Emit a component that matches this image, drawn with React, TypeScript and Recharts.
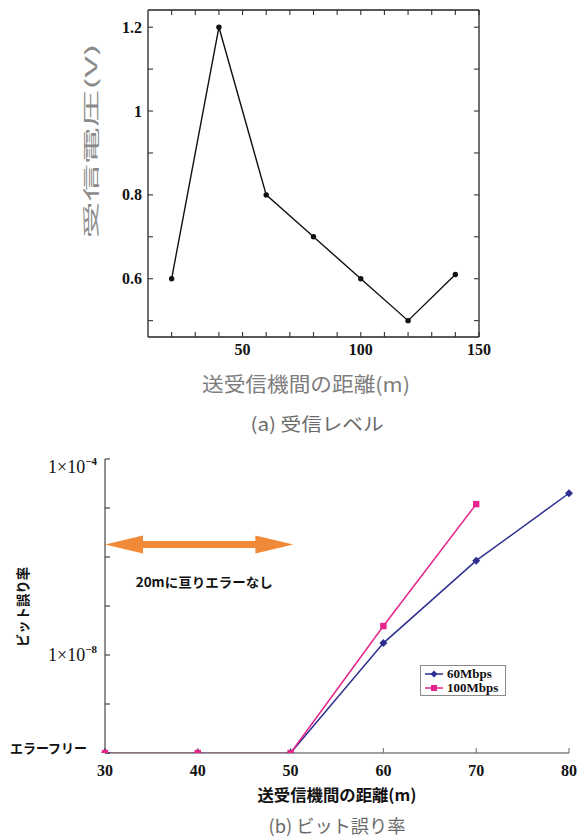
import React from 'react';
import { LineChart, Line, XAxis, YAxis, Legend, ReferenceLine } from 'recharts';

// ---------- (a) 受信レベル ----------
const voltDistance = [20, 40, 60, 80, 100, 120, 140];
const voltValue = [0.6, 1.2, 0.8, 0.7, 0.6, 0.5, 0.61];
const voltXTicks = [20, 30, 40, 50, 60, 70, 80, 90, 100, 110, 120, 130, 140, 150];
const voltXLabelTicks = [50, 100, 150];
const voltYTicks = [0.5, 0.6, 0.7, 0.8, 0.9, 1.0, 1.1, 1.2];
const voltYLabelTicks = [0.6, 0.8, 1.0, 1.2];
const voltXDomain = [10, 150];
const voltYDomain = [0.461, 1.241];

// ---------- (b) ビット誤り率 ----------
const berDistance = [30, 40, 50, 60, 70, 80];
const ber60 = [1e-10, 1e-10, 1e-10, 1.75e-8, 8.4e-7, 2.0e-5];
const ber100: (number | null)[] = [1e-10, 1e-10, 1e-10, 3.9e-8, 1.2e-5, null];
const berXTicks = [30, 40, 50, 60, 70, 80];
const berYTicks = [1e-10, 1e-9, 1e-8, 1e-7, 1e-6, 1e-5, 1e-4];
const berYDomain = [1e-10, 1e-4];
const berYExpLabels = [-8, -4];
const errorFreeLabel = 'エラーフリー';
const arrowX = [30, 50.3];
const arrowY = 1.8e-6;
const arrowText = '20mに亘りエラーなし';
const seriesNames = ['60Mbps', '100Mbps'];

const voltData = voltDistance.map((d, i) => ({ d, v: voltValue[i] }));
const berData = berDistance.map((d, i) => ({ d, s60: ber60[i], s100: ber100[i] }));

const SERIF = '"Liberation Serif", "DejaVu Serif", serif';
const JP = '"Noto Sans CJK JP", "Noto Sans", sans-serif';
const NAVY = '#2c2f8e';
const PINK = '#e6258c';
const ORANGE = '#f08a38';

const near = (a: number, b: number) => Math.abs(a - b) <= 1e-9 * Math.max(Math.abs(a), Math.abs(b));

const EmptyTick = () => <g />;

const VoltLeftTick = (p: any) => {
  const { x, y, payload } = p;
  const v = payload.value;
  if (!voltYLabelTicks.some((t) => near(t, v))) return <g />;
  return (
    <text x={x} y={y} dy="0.35em" textAnchor="end" fontFamily={SERIF} fontWeight="bold" fontSize={16} fill="#111">
      {near(v, 1) ? '1' : String(v)}
    </text>
  );
};
const VoltBottomTick = (p: any) => {
  const { x, y, payload } = p;
  const v = payload.value;
  if (!voltXLabelTicks.includes(v)) return <g />;
  return (
    <text x={x} y={y} dy="0.35em" textAnchor="middle" fontFamily={SERIF} fontWeight="bold" fontSize={16} fill="#111">
      {v}
    </text>
  );
};

const BerLeftTick = (p: any) => {
  const { x, y, payload } = p;
  const v = payload.value;
  const exp = Math.round(Math.log10(v));
  if (near(v, berYDomain[0])) {
    return (
      <text x={x - 10} y={y - 5} dy="0.35em" textAnchor="end" fontFamily={JP} fontWeight="bold" fontSize={13} fill="#111" textLength={77} lengthAdjust="spacingAndGlyphs">
        {errorFreeLabel}
      </text>
    );
  }
  if (berYExpLabels.includes(exp)) {
    const base = exp === Math.round(Math.log10(berYDomain[1])) ? y + 14 : y + 6;
    return (
      <text x={x} y={base} textAnchor="end" fontFamily={SERIF} fontSize={18} fill="#111">
        <tspan>1×10</tspan>
        <tspan dy={-8} fontSize={11} fontWeight="bold">{'−' + Math.abs(exp)}</tspan>
      </text>
    );
  }
  return <g />;
};
const BerBottomTick = (p: any) => {
  const { x, y, payload } = p;
  return (
    <text x={x} y={y} dy="0.35em" textAnchor="middle" fontFamily={SERIF} fontWeight="bold" fontSize={16} fill="#111">
      {payload.value}
    </text>
  );
};

const DiamondDot = (p: any) => {
  const { cx, cy, index } = p;
  if (cx == null || cy == null) return <g key={'d' + index} />;
  const r = 4;
  return <polygon key={'d' + index} points={`${cx},${cy - r} ${cx + r},${cy} ${cx},${cy + r} ${cx - r},${cy}`} fill={NAVY} />;
};
const SquareDot = (p: any) => {
  const { cx, cy, index } = p;
  if (cx == null || cy == null) return <g key={'s' + index} />;
  const r = 3.2;
  return <rect key={'s' + index} x={cx - r} y={cy - r} width={2 * r} height={2 * r} fill={PINK} />;
};

const ArrowShape = (p: any) => {
  const { x1, y1, x2 } = p;
  const head = 38;
  const hh = 9;
  const sh = 3.6;
  const pts = [
    [x1, y1],
    [x1 + head, y1 - hh],
    [x1 + head, y1 - sh],
    [x2 - head, y1 - sh],
    [x2 - head, y1 - hh],
    [x2, y1],
    [x2 - head, y1 + hh],
    [x2 - head, y1 + sh],
    [x1 + head, y1 + sh],
    [x1 + head, y1 + hh],
  ]
    .map((q) => q.join(','))
    .join(' ');
  return (
    <g>
      <polygon points={pts} fill={ORANGE} />
      <text x={(x1 + x2) / 2 + 5} y={y1 + 38} dy="0.35em" textAnchor="middle" fontFamily={JP} fontWeight="bold" fontSize={13} fill="#111" textLength={137} lengthAdjust="spacingAndGlyphs">
        {arrowText}
      </text>
    </g>
  );
};

const LegendBox = () => (
  <div style={{ border: '1px solid #8a8a8a', width: 86, height: 31, padding: '1px 0', boxSizing: 'border-box', background: '#fff' }}>
    {seriesNames.map((name, i) => (
      <div key={name} style={{ display: 'flex', alignItems: 'center', height: 14 }}>
        <svg width={26} height={14} style={{ display: 'block' }}>
          <line x1={4} y1={7} x2={22} y2={7} stroke={i === 0 ? NAVY : PINK} strokeWidth={1.5} />
          {i === 0 ? (
            <polygon points="13,3.5 16.5,7 13,10.5 9.5,7" fill={NAVY} />
          ) : (
            <rect x={10} y={4} width={6} height={6} fill={PINK} />
          )}
        </svg>
        <span style={{ fontFamily: SERIF, fontWeight: 'bold', fontSize: 13, color: '#111', lineHeight: '14px' }}>{name}</span>
      </div>
    ))}
  </div>
);

const boxLine = { stroke: '#222', strokeWidth: 1.3 };
const tickLineStyle = { stroke: '#333', strokeWidth: 1.1 };
const TS = -5;

export default function App() {
  return (
    <div style={{ position: 'absolute', left: 0, top: 0, width: 579, height: 838, background: '#fff', overflow: 'hidden' }}>
      <div style={{ position: 'absolute', left: 0, top: 0 }}>
        <LineChart width={579} height={380} data={voltData} margin={{ top: 9, right: 99, bottom: 13, left: 0 }}>
          <XAxis xAxisId="b" dataKey="d" type="number" domain={voltXDomain} ticks={voltXTicks} interval={0} allowDataOverflow
            height={30} tickSize={TS} tickMargin={17} tickLine={tickLineStyle} tick={<VoltBottomTick />} axisLine={boxLine} />
          <XAxis xAxisId="t" dataKey="d" orientation="top" type="number" domain={voltXDomain} ticks={voltXTicks} interval={0} allowDataOverflow
            height={1} tickSize={TS} tickMargin={0} tickLine={tickLineStyle} tick={EmptyTick} axisLine={boxLine} />
          <YAxis yAxisId="l" type="number" domain={voltYDomain} ticks={voltYTicks} interval={0} allowDataOverflow
            width={148} tickSize={TS} tickMargin={11} tickLine={tickLineStyle} tick={<VoltLeftTick />} axisLine={boxLine} />
          <YAxis yAxisId="r" orientation="right" type="number" domain={voltYDomain} ticks={voltYTicks} interval={0} allowDataOverflow
            width={1} tickSize={TS} tickMargin={0} tickLine={tickLineStyle} tick={EmptyTick} axisLine={boxLine} />
          <Line xAxisId="t" yAxisId="r" dataKey="v" stroke="none" dot={false} activeDot={false} legendType="none" isAnimationActive={false} />
          <Line xAxisId="b" yAxisId="l" dataKey="v" stroke="#111" strokeWidth={1.4} isAnimationActive={false}
            dot={{ r: 2.7, fill: '#111', stroke: '#111', strokeWidth: 0 }} />
        </LineChart>
      </div>
      <div style={{ position: 'absolute', left: 0, top: 440 }}>
        <LineChart width={579} height={398} data={berData} margin={{ top: 19, right: 10, bottom: 55, left: 0 }}>
          <XAxis dataKey="d" type="number" domain={[berXTicks[0], berXTicks[berXTicks.length - 1]]} ticks={berXTicks} interval={0}
            height={30} tickSize={TS} tickMargin={22} tickLine={{ stroke: '#808080', strokeWidth: 1.2 }} tick={<BerBottomTick />}
            axisLine={{ stroke: '#808080', strokeWidth: 1.6 }} />
          <YAxis type="number" scale="log" domain={berYDomain} ticks={berYTicks} interval={0} allowDataOverflow
            width={105} tickSize={TS} tickMargin={13} tickLine={tickLineStyle} tick={<BerLeftTick />} axisLine={{ stroke: '#222', strokeWidth: 1 }} />
          <ReferenceLine segment={[{ x: arrowX[0], y: arrowY }, { x: arrowX[1], y: arrowY }]} shape={ArrowShape} ifOverflow="visible" />
          <Line dataKey="s60" name={seriesNames[0]} stroke={NAVY} strokeWidth={1.5} dot={DiamondDot} isAnimationActive={false} />
          <Line dataKey="s100" name={seriesNames[1]} stroke={PINK} strokeWidth={1.5} dot={SquareDot} isAnimationActive={false} />
          <Legend layout="vertical" align="center" verticalAlign="middle" content={<LegendBox />}
            wrapperStyle={{ left: 420, top: 225, width: 86, height: 31 }} />
        </LineChart>
      </div>
      <svg width={579} height={838} style={{ position: 'absolute', left: 0, top: 0, pointerEvents: 'none' }}>
        <text transform="translate(90,141) rotate(-90)" textAnchor="middle" dominantBaseline="central" fontFamily={JP} fontSize={16} fill="#8a8a8a" textLength={195} lengthAdjust="spacingAndGlyphs">受信電圧(V)</text>
        <text x={306} y={383} textAnchor="middle" dominantBaseline="central" fontFamily={JP} fontSize={20} fill="#7d7d7d" textLength={208} lengthAdjust="spacingAndGlyphs">送受信機間の距離(m)</text>
        <text x={317} y={423} textAnchor="middle" dominantBaseline="central" fontFamily={JP} fontSize={18} fill="#6a6a6a" textLength={133} lengthAdjust="spacingAndGlyphs">(a) 受信レベル</text>
        <text transform="translate(22,607) rotate(-90)" textAnchor="middle" dominantBaseline="central" fontFamily={JP} fontWeight="bold" fontSize={14} fill="#111" textLength={80} lengthAdjust="spacingAndGlyphs">ビット誤り率</text>
        <text x={337} y={794} textAnchor="middle" dominantBaseline="central" fontFamily={JP} fontWeight="bold" fontSize={16} fill="#111" textLength={159} lengthAdjust="spacingAndGlyphs">送受信機間の距離(m)</text>
        <text x={337} y={825} textAnchor="middle" dominantBaseline="central" fontFamily={JP} fontSize={18} fill="#6a6a6a" textLength={137} lengthAdjust="spacingAndGlyphs">(b) ビット誤り率</text>
      </svg>
    </div>
  );
}
